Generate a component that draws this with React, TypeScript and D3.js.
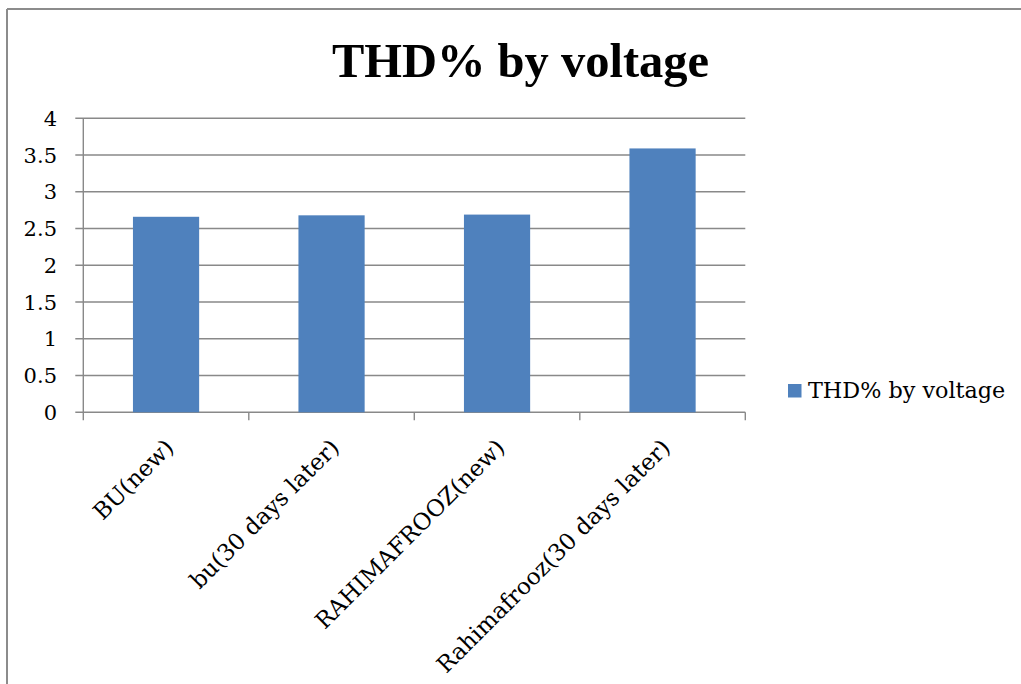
import React from "react";
import * as d3 from "d3";

const categories = ["BU(new)", "bu(30 days later)", "RAHIMAFROOZ(new)", "Rahimafrooz(30 days later)"];
const values = [2.66, 2.68, 2.69, 3.59];
const yTicks = [0, 0.5, 1, 1.5, 2, 2.5, 3, 3.5, 4];
const title = "THD% by voltage";
const seriesName = "THD% by voltage";

const W = 1021;
const H = 684;
const plot = { left: 83.3, right: 745.3, top: 118.3, bottom: 412.3 };
const barColor = "#4f81bd";
const gridColor = "#898989";
const serif = "'DejaVu Serif', serif";

export default function App() {
  const x = d3.scaleBand<string>().domain(categories).range([plot.left, plot.right]).paddingInner(0.6).paddingOuter(0.3);
  const xb = d3.scaleBand<string>().domain(categories).range([plot.left, plot.right]);
  const y = d3.scaleLinear().domain([0, 4]).range([plot.bottom, plot.top]);

  return (
    <svg width={W} height={H} style={{ position: "absolute", left: 0, top: 0, display: "block" }}>
      <rect x={0} y={0} width={W} height={H} fill="#fff" />
      {/* outer frame */}
      <line x1={7} y1={9} x2={W} y2={9} stroke="#8c8c8c" strokeWidth={2} />
      <line x1={7} y1={9} x2={7} y2={H} stroke="#8c8c8c" strokeWidth={2} />

      <text x={520.5} y={77} textAnchor="middle" fontFamily="'Liberation Serif', serif" fontWeight="bold" fontSize={48.5} fill="#000">
        {title}
      </text>

      {/* gridlines & y ticks */}
      {yTicks.map((t) => (
        <g key={t}>
          <line x1={75.3} x2={plot.right} y1={y(t)} y2={y(t)} stroke={gridColor} strokeWidth={1.4} />
          <text x={57} y={y(t)} dy="0.36em" textAnchor="end" fontFamily={serif} fontSize={21} fill="#000">
            {t}
          </text>
        </g>
      ))}
      <line x1={plot.left} x2={plot.left} y1={plot.top} y2={plot.bottom + 8} stroke={gridColor} strokeWidth={1.4} />

      {/* bars */}
      {categories.map((c, i) => (
        <rect key={c} x={x(c)} y={y(values[i])} width={x.bandwidth()} height={plot.bottom - y(values[i])} fill={barColor} />
      ))}

      {/* x axis ticks */}
      {categories.map((c) => (
        <line key={c} x1={(xb(c) as number) + xb.bandwidth()} x2={(xb(c) as number) + xb.bandwidth()} y1={plot.bottom} y2={plot.bottom + 8} stroke={gridColor} strokeWidth={1.4} />
      ))}

      {/* x labels */}
      {categories.map((c) => {
        const cx = (xb(c) as number) + xb.bandwidth() / 2 + 9;
        const cy = 449;
        return (
          <text key={c} x={cx} y={cy} textAnchor="end" transform={`rotate(-45 ${cx} ${cy})`} fontFamily={serif} fontSize={23} fill="#000">
            {c}
          </text>
        );
      })}

      {/* legend */}
      <rect x={788} y={384} width={13.5} height={13.5} fill={barColor} />
      <text x={808} y={397.5} fontFamily={serif} fontSize={22.3} fill="#000">
        {seriesName}
      </text>
    </svg>
  );
}
